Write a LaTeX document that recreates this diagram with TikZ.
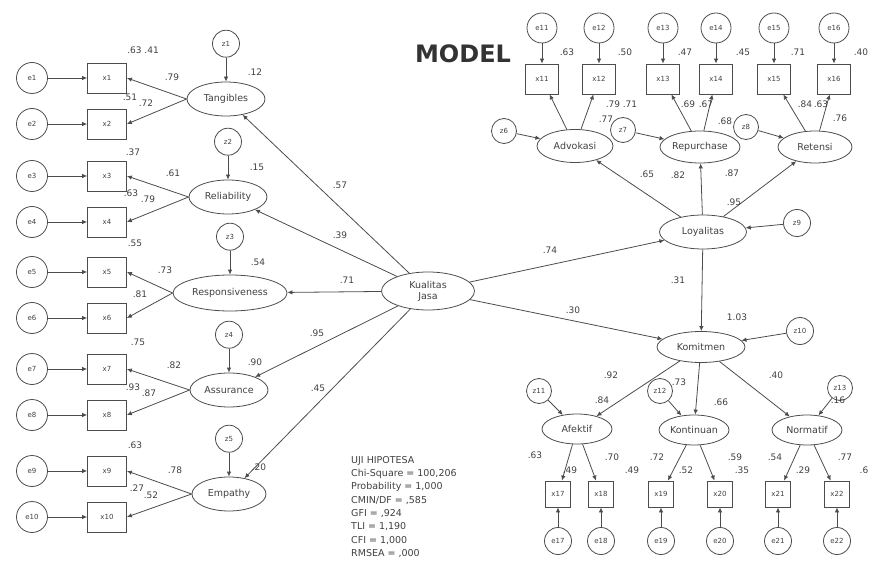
\documentclass[tikz,border=0pt]{standalone}
\usepackage{fontspec}
\setmainfont{DejaVu Sans}
\usetikzlibrary{shapes.geometric,arrows.meta,positioning}

\begin{document}
\begin{tikzpicture}[x=1pt,y=-1pt,
	every node/.style={text=black!75},
	err/.style={circle,draw=black!70,line width=0.8pt,inner sep=0pt,minimum size=31pt,font=\fontsize{7}{7}\selectfont},
	dis/.style={err,minimum size=27pt},
	obs/.style={rectangle,draw=black!70,line width=0.8pt,inner sep=0pt,minimum width=39pt,minimum height=30pt,font=\fontsize{7}{7}\selectfont},
	lat/.style={ellipse,draw=black!70,line width=0.8pt,inner sep=0pt,minimum height=34pt,font=\fontsize{9.5}{10}\selectfont},
	val/.style={inner sep=0pt,font=\fontsize{9}{9}\selectfont},
	arr/.style={draw=black!70,line width=0.8pt,-{Latex[length=5pt,width=4.5pt]}}]
	\useasboundingbox (0,0) rectangle (870,564);

	% left indicators
	\foreach \i/\y in {1/78,2/124,3/176,4/222,5/272,6/318,7/369,8/415,9/471,10/517} {
		\node[err] (e\i) at (32,\y) {e\i};
		\node[obs] (x\i) at (107,\y) {x\i};
		\draw[arr] (e\i) -- (x\i);
	}

	% latent variables
	\node[lat,minimum height=38pt,minimum width=93pt,align=center,font=\fontsize{9.5}{11}\selectfont] (kj) at (428,291) {Kualitas\\Jasa};
	\node[lat,minimum width=78pt] (tang) at (226,99) {Tangibles};
	\node[lat,minimum width=78pt] (reli) at (228,197) {Reliability};
	\node[lat,minimum width=114pt,minimum height=36pt] (resp) at (230,293) {Responsiveness};
	\node[lat,minimum width=78pt] (assu) at (229,390) {Assurance};
	\node[lat,minimum width=74pt] (empa) at (229,494) {Empathy};

	\foreach \l/\a/\b/\z in {tang/1/2/1,reli/3/4/2,resp/5/6/3,assu/7/8/4,empa/9/10/5} {
		\node[dis,above=24pt of \l] (z\z) {z\z};
		\draw[arr] (z\z) -- (\l);
		\draw[arr] (\l.west) -- (x\a.east);
		\draw[arr] (\l.west) -- (x\b.east);
		\draw[arr] (kj) -- (\l);
	}

	% loyalitas and komitmen
	\node[lat,minimum width=87pt] (loy) at (703,232) {Loyalitas};
	\node[lat,minimum width=88pt,minimum height=31pt] (kom) at (701,347) {Komitmen};
	\node[dis] (z9) at (797,223) {z9};
	\node[dis] (z10) at (800,331) {z10};
	\draw[arr] (kj) -- (loy);
	\draw[arr] (kj) -- (kom);
	\draw[arr] (loy) -- (kom);
	\draw[arr] (z9) -- (loy);
	\draw[arr] (z10) -- (kom);

	% top indicators
	\foreach \i/\x in {11/542,12/599,13/663,14/716,15/774,16/834} {
		\node[err,minimum size=30pt] (e\i) at (\x,28) {e\i};
		\node[obs,minimum width=33pt] (x\i) at (\x,79) {x\i};
		\draw[arr] (e\i) -- (x\i);
	}
	\node[lat,minimum width=76pt,minimum height=33pt] (adv) at (575,146) {Advokasi};
	\node[lat,minimum width=80pt,minimum height=32pt] (rep) at (700,147) {Repurchase};
	\node[lat,minimum width=74pt,minimum height=32pt] (ret) at (815,147) {Retensi};
	\node[dis,minimum size=25pt] (z6) at (504,131) {z6};
	\node[dis,minimum size=25pt] (z7) at (623,130) {z7};
	\node[dis,minimum size=25pt] (z8) at (746,127) {z8};
	\foreach \l/\a/\b/\z in {adv/11/12/6,rep/13/14/7,ret/15/16/8} {
		\draw[arr] (\l) -- (x\a);
		\draw[arr] (\l) -- (x\b);
		\draw[arr] (z\z) -- (\l);
		\draw[arr] (loy) -- (\l);
	}

	% bottom indicators
	\foreach \i/\x in {17/558,18/601,19/661,20/720,21/778,22/837} {
		\node[obs,minimum width=25pt,minimum height=26pt] (x\i) at (\x,494) {x\i};
		\node[err,minimum size=27pt] (e\i) at (\x,541) {e\i};
		\draw[arr] (e\i) -- (x\i);
	}
	\node[lat,minimum width=70pt,minimum height=30pt] (afe) at (577,429) {Afektif};
	\node[lat,minimum width=70pt,minimum height=30pt] (kon) at (694,430) {Kontinuan};
	\node[lat,minimum width=70pt,minimum height=30pt] (nor) at (807,430) {Normatif};
	\node[dis,minimum size=25pt] (z11) at (539,391) {z11};
	\node[dis,minimum size=25pt] (z12) at (660,391) {z12};
	\node[dis,minimum size=25pt] (z13) at (840,388) {z13};
	\foreach \l/\a/\b/\z in {afe/17/18/11,kon/19/20/12,nor/21/22/13} {
		\draw[arr] (\l) -- (x\a);
		\draw[arr] (\l) -- (x\b);
		\draw[arr] (z\z) -- (\l);
		\draw[arr] (kom) -- (\l);
	}

	% estimates
	\foreach \t/\x/\y [count=\n] in {
		.63 .41/143/50,.79/172/77,.51/130/97,.72/146/103,.12/255/72,
		.37/133/152,.61/173/173,.63/131/193,.79/148/199,.15/257/167,
		.55/135/243,.73/165/270,.81/140/294,.54/258/262,
		.75/138/342,.82/174/365,.90/255/362,.93/133/387,.87/149/393,
		.63/135/445,.78/175/470,.27/137/488,.52/151/495,.20/259/467,
		.57/340/185,.39/340/235,.71/347/280,.95/317/333,.45/318/388,
		.74/550/250,.30/573/310,.31/678/280,1.03/737/317,
		.65/647/174,.82/678/175,.87/732/173,.95/734/202,
		.63/567/52,.50/625/52,.47/685/52,.45/743/52,.71/798/52,.40/861/52,
		.79/613/104,.71/630/104,.69/688/104,.67/706/104,.84/805/104,.63/821/104,
		.77/606/119,.68/725/121,.76/840/118,
		.92/611/375,.84/602/400,.73/679/382,.66/721/402,.40/776/375,.16/838/400,
		.63/535/455,.49/570/470,.70/612/457,.49/632/470,.72/657/457,.52/686/470,
		.59/735/457,.35/742/470,.54/775/457,.29/803/470,.77/845/457,.6/864/470} {
		\node[val] (v\n) at (\x,\y) {\t};
	}

	\node[font=\fontsize{24}{24}\selectfont\bfseries,text=black!80,inner sep=0pt] (title) at (463,54) {MODEL};
	\node[align=left,anchor=north west,inner sep=0pt,font=\fontsize{9.5}{13.3}\selectfont] (fit) at (351,456) {UJI HIPOTESA\\Chi-Square = 100,206\\Probability = 1,000\\CMIN/DF = ,585\\GFI = ,924\\TLI = 1,190\\CFI = 1,000\\RMSEA = ,000};
\end{tikzpicture}
\end{document}
